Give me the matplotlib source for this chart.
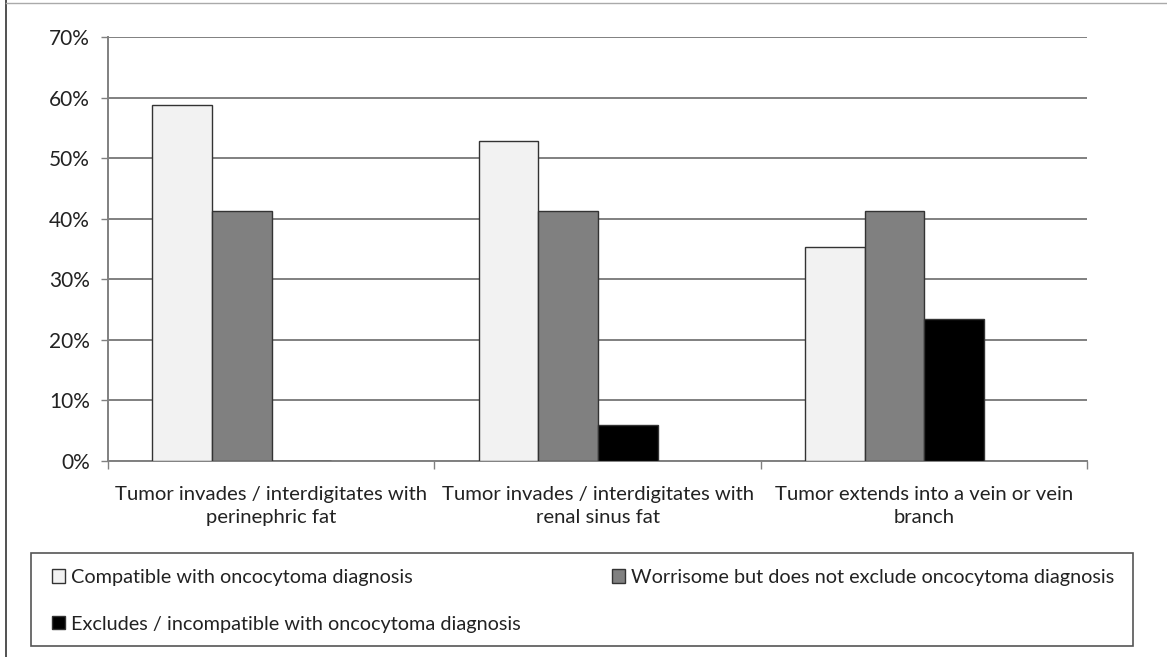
import numpy as np
import matplotlib.pyplot as plt
from matplotlib.lines import Line2D
from matplotlib.patches import Rectangle

categories = ["Tumor invades / interdigitates with\nperinephric fat",
              "Tumor invades / interdigitates with\nrenal sinus fat",
              "Tumor extends into a vein or vein\nbranch"]
series_names = ["Compatible with oncocytoma diagnosis",
                "Worrisome but does not exclude oncocytoma diagnosis",
                "Excludes / incompatible with oncocytoma diagnosis"]
compatible = [58.8, 52.9, 35.3]
worrisome = [41.2, 41.2, 41.2]
excludes = [0.0, 5.9, 23.5]
colors = ["#f2f2f2", "#808080", "#000000"]
y_ticks = [0, 10, 20, 30, 40, 50, 60, 70]

plt.rcParams['font.family'] = ['Lato', 'DejaVu Sans']

fig = plt.figure(figsize=(11.67, 6.57), dpi=100)
ax = fig.add_axes([108 / 1167, 1 - 461 / 657, (1087 - 108) / 1167, (461 - 37) / 657])

x = np.arange(len(categories))
w = 0.183
shift = -0.09
bars = []
for k, vals in enumerate([compatible, worrisome, excludes]):
    b = ax.bar(x + shift + (k - 1) * w, vals, width=w, color=colors[k],
               edgecolor="#333333", linewidth=1.0, zorder=3,
               label=series_names[k])
    bars.append(b)

ax.set_xlim(-0.5, len(categories) - 0.5)
ax.set_ylim(0, 70)
ax.set_yticks(y_ticks)
ax.set_yticklabels([f"{t}%" for t in y_ticks], fontsize=15, color="#222222")
ax.yaxis.grid(True, color="#808080", linewidth=1.4, zorder=0)

ax.set_xticks(x)
ax.set_xticklabels(categories, fontsize=14.6, color="#222222", linespacing=1.4)
ax.tick_params(axis="x", length=0, pad=18)
ax.set_xticks(np.arange(-0.5, len(categories), 1.0), minor=True)
ax.tick_params(axis="x", which="minor", length=6, width=1.0, color="#808080")
ax.tick_params(axis="y", length=5, width=1.0, color="#808080", pad=8)

for s in ["top", "right"]:
    ax.spines[s].set_visible(False)
for s in ["left", "bottom"]:
    ax.spines[s].set_color("#808080")
    ax.spines[s].set_linewidth(1.4)

# legend box
fig.add_artist(Rectangle((31 / 1167, 1 - 646 / 657), (1133 - 31) / 1167, 93 / 657,
                         transform=fig.transFigure, fill=False,
                         edgecolor="#555555", linewidth=1.2))
handles = [bars[0], bars[2], bars[1]]
labels = [series_names[0], series_names[2], series_names[1]]
leg = fig.legend(handles, labels, loc="upper left",
                 bbox_to_anchor=(52 / 1167, 1 - 569 / 657), ncol=2,
                 frameon=False, fontsize=14.3, handlelength=0.65, handleheight=0.65,
                 handletextpad=0.3, columnspacing=4.6, labelspacing=1.5,
                 borderaxespad=0, borderpad=0)
for t in leg.get_texts():
    t.set_color("#222222")

# page borders
fig.add_artist(Line2D([6 / 1167, 6 / 1167], [0, 1], transform=fig.transFigure,
                      color="#333333", linewidth=1.2))
fig.add_artist(Line2D([6 / 1167, 1], [1 - 3 / 657, 1 - 3 / 657], transform=fig.transFigure,
                      color="#aaaaaa", linewidth=1.0))

fig.savefig("out.png", dpi=100)
